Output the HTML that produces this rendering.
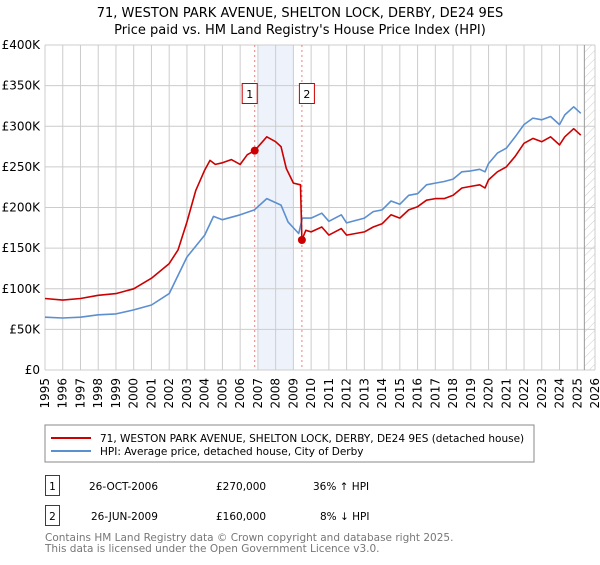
<!DOCTYPE html>
<html><head><meta charset="utf-8"><style>
body{margin:0;background:#fff;font-family:"Liberation Sans","DejaVu Sans",sans-serif}
svg text{font-family:"DejaVu Sans","Liberation Sans",sans-serif}
</style></head><body>
<svg id="c" width="600" height="560" xmlns="http://www.w3.org/2000/svg">
<text x="300" y="17" text-anchor="middle" font-size="13">71, WESTON PARK AVENUE, SHELTON LOCK, DERBY, DE24 9ES</text>
<text x="300" y="34" text-anchor="middle" font-size="13">Price paid vs. HM Land Registry's House Price Index (HPI)</text>
<g id="plot"></g>
<rect x="45" y="425" width="489" height="37" fill="#fff" stroke="#888"/>
<line x1="51" y1="438" x2="91" y2="438" stroke="#cc0000" stroke-width="2"/>
<text x="100" y="442" font-size="10.5">71, WESTON PARK AVENUE, SHELTON LOCK, DERBY, DE24 9ES (detached house)</text>
<line x1="51" y1="451" x2="91" y2="451" stroke="#5b8fd0" stroke-width="2"/>
<text x="100" y="455" font-size="10.5">HPI: Average price, detached house, City of Derby</text>
<rect x="45.5" y="475.5" width="14" height="20" fill="#fff" stroke="#cc0000"/>
<text x="52.5" y="490" font-size="10.5" text-anchor="middle">1</text>
<text x="89" y="490" font-size="10.5">26-OCT-2006</text>
<text x="216" y="490" font-size="10.5">£270,000</text>
<text x="313" y="490" font-size="10.5">36% ↑ HPI</text>
<rect x="45.5" y="505.5" width="14" height="20" fill="#fff" stroke="#cc0000"/>
<text x="52.5" y="520" font-size="10.5" text-anchor="middle">2</text>
<text x="91" y="520" font-size="10.5">26-JUN-2009</text>
<text x="216" y="520" font-size="10.5">£160,000</text>
<text x="320" y="520" font-size="10.5">8% ↓ HPI</text>
<text x="45" y="541" font-size="10.5" fill="#777">Contains HM Land Registry data © Crown copyright and database right 2025.</text>
<text x="45" y="552" font-size="10.5" fill="#777">This data is licensed under the Open Government Licence v3.0.</text>
</svg>
<script>
const hpiYears=[1995,1996,1997,1998,1999,2000,2001,2002,2003,2004,2004.5,2005,2006,2006.8,2007.5,2008.3,2008.7,2009.3,2009.5,2010,2010.6,2011,2011.7,2012,2013,2013.5,2014,2014.5,2015,2015.5,2016,2016.5,2017,2017.5,2018,2018.5,2019,2019.5,2019.8,2020,2020.5,2021,2021.5,2022,2022.5,2023,2023.5,2024,2024.3,2024.8,2025.2];
const hpiValues=[65,64,65,68,69,74,80,94,139,166,189,185,191,197,211,203,182,168,187,187,193,183,191,181,187,195,197,208,204,215,217,228,230,232,235,244,245,247,244,254,267,273,287,302,310,308,312,302,314,324,316];
const propYears=[1995,1996,1997,1998,1999,2000,2001,2002,2002.5,2003,2003.5,2004,2004.3,2004.6,2005,2005.5,2006,2006.4,2006.82,2007.5,2008,2008.3,2008.6,2009,2009.4,2009.48,2009.7,2010,2010.6,2011,2011.7,2012,2013,2013.5,2014,2014.5,2015,2015.5,2016,2016.5,2017,2017.5,2018,2018.5,2019,2019.5,2019.8,2020,2020.5,2021,2021.5,2022,2022.5,2023,2023.5,2024,2024.3,2024.8,2025.2];
const propValues=[88,86,88,92,94,100,113,131,148,182,221,246,258,253,255,259,253,265,270,287,281,275,248,230,228,160,172,170,176,166,174,166,170,176,180,191,187,197,201,209,211,211,215,224,226,228,224,234,244,250,263,279,285,281,287,277,287,297,289];
const saleYears=[2006.82,2009.48];
const saleValues=[270,160];
const yTicks=[0,50,100,150,200,250,300,350,400];
const yTickLabels=["£0","£50K","£100K","£150K","£200K","£250K","£300K","£350K","£400K"];
const xTicks=[1995,1996,1997,1998,1999,2000,2001,2002,2003,2004,2005,2006,2007,2008,2009,2010,2011,2012,2013,2014,2015,2016,2017,2018,2019,2020,2021,2022,2023,2024,2025,2026];
const L=45,R=595,T=45,B=370;
const xs=y=>L+(y-1995)/31*(R-L);
const ys=v=>B-v/400*(B-T);
const NS="http://www.w3.org/2000/svg";
const g=document.getElementById('plot');
function mk(t,a){const e=document.createElementNS(NS,t);for(const k in a)e.setAttribute(k,a[k]);g.appendChild(e);return e;}
let sh=mk('rect',{x:xs(2007),y:T,width:xs(2009)-xs(2007),height:B-T,fill:'#eef3fb'});


const defs=document.createElementNS(NS,'defs');defs.innerHTML='<pattern id="h" width="6" height="6" patternUnits="userSpaceOnUse" patternTransform="rotate(45)"><line x1="0" y1="0" x2="0" y2="6" stroke="#ccc" stroke-width="1"/></pattern>';g.appendChild(defs);
let ht=mk('rect',{x:xs(2025.4),y:T,width:R-xs(2025.4),height:B-T,fill:'url(#h)'});


xTicks.forEach(t=>{
 let l=mk('line',{x1:xs(t),x2:xs(t),y1:T,y2:B,stroke:'#cccccc'});
 
 
 let tx=mk('text',{x:0,y:0,'font-size':12,'text-anchor':'end',transform:`translate(${xs(t)+4},${B+8}) rotate(-90)`});
 tx.textContent=t;
 
 
});
yTicks.forEach((t,i)=>{
 let l=mk('line',{x1:L,x2:R,y1:ys(t),y2:ys(t),stroke:'#cccccc'});
 
 
 let tx=mk('text',{x:40,y:ys(t)+4,'font-size':12,'text-anchor':'end'});
 tx.textContent=yTickLabels[i];
 
 
});
let ln=mk('line',{x1:xs(2025.4),x2:xs(2025.4),y1:T,y2:B,stroke:'#999'});


saleYears.forEach((y,i)=>{
 let d=mk('line',{x1:xs(y),x2:xs(y),y1:T,y2:B,stroke:'#f08080','stroke-dasharray':'2,3'});
 
 
 let bx=xs(y)+(i==0?-5:5);
 let r=mk('rect',{x:bx-7.5,y:83.5,width:15,height:20,fill:'#fff',stroke:'#cc0000'});
 
 
 let t=mk('text',{x:bx,y:98,'font-size':11,'text-anchor':'middle'});t.textContent=String(i+1);
 
 
});
function path(xa,va,c,name){
 let p=mk('path',{d:xa.map((x,i)=>(i?'L':'M')+xs(x).toFixed(1)+','+ys(va[i]).toFixed(1)).join(''),fill:'none',stroke:c,'stroke-width':1.6,'stroke-linejoin':'round'});
 
 
}
path(hpiYears,hpiValues,'#5b8fd0','hpi-line');
path(propYears,propValues,'#cc0000','property-line');
saleYears.forEach((y,i)=>{
 let c=mk('circle',{cx:xs(y),cy:ys(saleValues[i]),r:4,fill:'#cc0000'});
 
 
});
</script>
</body></html>
